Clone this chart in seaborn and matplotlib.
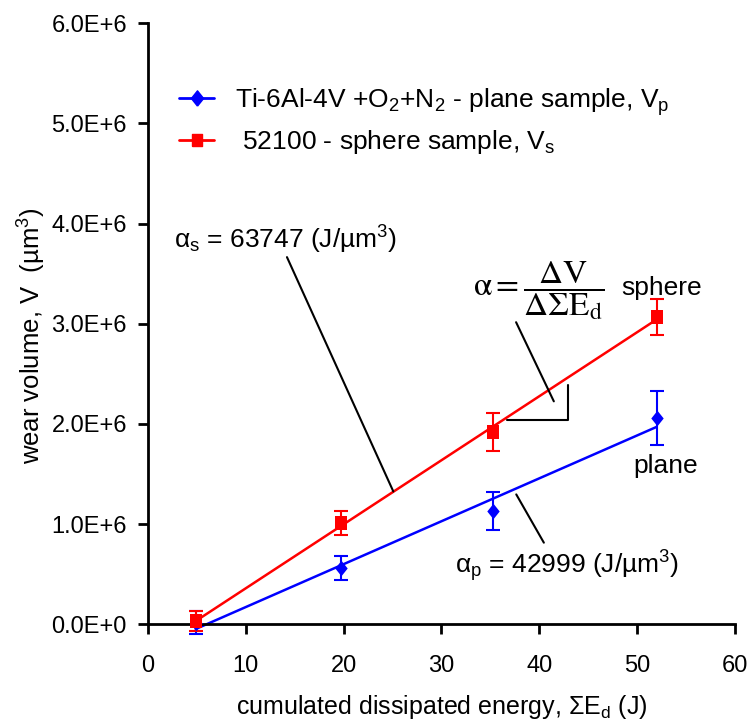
import numpy as np
import pandas as pd
import matplotlib
matplotlib.use('Agg')
import matplotlib.pyplot as plt
import seaborn as sns
from matplotlib.lines import Line2D
from matplotlib.ticker import FuncFormatter, MultipleLocator

# cumulated dissipated energy (J)
energy = [4.9, 19.7, 35.3, 52.0]

# wear volumes (um^3) and error bars
plane_vol = [0.015e6, 0.56e6, 1.13e6, 2.06e6]
plane_err = [0.115e6, 0.12e6, 0.19e6, 0.27e6]
sphere_vol = [0.03e6, 1.01e6, 1.92e6, 3.07e6]
sphere_err = [0.10e6, 0.12e6, 0.19e6, 0.18e6]

df = pd.DataFrame({'energy': energy, 'plane': plane_vol, 'sphere': sphere_vol})

sns.set_style('ticks')
plt.rcParams['font.family'] = ['Liberation Sans', 'DejaVu Sans']
plt.rcParams['mathtext.fontset'] = 'custom'
plt.rcParams['mathtext.rm'] = 'Liberation Sans'
plt.rcParams['mathtext.it'] = 'Liberation Sans'
plt.rcParams['mathtext.bf'] = 'Liberation Sans:bold'
for k in ['text.color', 'axes.labelcolor', 'xtick.color', 'ytick.color']:
    plt.rcParams[k] = 'black'

blue = '#0000ff'
red = '#ff0000'

fig, ax = plt.subplots(figsize=(7.54, 7.25), dpi=100)
fig.subplots_adjust(left=0.196, right=0.975, bottom=0.139, top=0.968)

# linear fits
sns.regplot(data=df, x='energy', y='plane', scatter=False, ci=None,
            color=blue, line_kws={'lw': 1.8}, ax=ax)
sns.regplot(data=df, x='energy', y='sphere', scatter=False, ci=None,
            color=red, line_kws={'lw': 1.8}, ax=ax)

rect = [(-0.42, -0.5), (0.42, -0.5), (0.42, 0.5), (-0.42, 0.5), (-0.42, -0.5)]
diam = [(0, -0.5), (0.4, 0), (0, 0.5), (-0.4, 0), (0, -0.5)]

ax.errorbar(df['energy'], df['plane'], yerr=plane_err, fmt='none', ecolor=blue,
            capsize=5, elinewidth=1.5, capthick=1.5, clip_on=False)
ax.errorbar(df['energy'], df['sphere'], yerr=sphere_err, fmt='none', ecolor=red,
            capsize=5, elinewidth=1.5, capthick=1.5, clip_on=False)
sns.scatterplot(data=df, x='energy', y='plane', marker=diam, s=125, color=blue,
                edgecolor=blue, linewidth=0, ax=ax, zorder=5, clip_on=False)
sns.scatterplot(data=df, x='energy', y='sphere', marker=rect, s=90, color=red,
                edgecolor=red, linewidth=0, ax=ax, zorder=5, clip_on=False)

for ln in ax.lines:
    ln.set_clip_on(False)

ax.set_xlim(0, 60)
ax.set_ylim(0, 6e6)
ax.xaxis.set_major_locator(MultipleLocator(10))
ax.yaxis.set_major_locator(MultipleLocator(1e6))


def sci(v, pos):
    if v == 0:
        return '0.0E+0'
    e = int(np.floor(np.log10(abs(v))))
    return f'{v / 10**e:.1f}E+{e}'


ax.yaxis.set_major_formatter(FuncFormatter(sci))
sns.despine(ax=ax)
for s in ['left', 'bottom']:
    ax.spines[s].set_linewidth(2)
    ax.spines[s].set_color('black')
ax.tick_params(direction='out', length=7, width=2, labelsize=17, colors='black')
ax.tick_params(axis='y', pad=8)
ax.tick_params(axis='x', pad=15)

ax.set_xlabel('cumulated dissipated energy, ΣE$_\\mathregular{d}$ (J)', fontsize=18, labelpad=12)
ax.set_ylabel('wear volume, V  (µm$^\\mathregular{3}$)', fontsize=18.5)
ax.yaxis.set_label_coords(-0.17, 0.48)

# legend
handles = [
    Line2D([], [], color=blue, marker=diam, ms=11, lw=2),
    Line2D([], [], color=red, marker=rect, ms=9, lw=2),
]
labels = ['Ti-6Al-4V +O$_\\mathregular{2}$+N$_\\mathregular{2}$ - plane sample, V$_\\mathregular{p}$',
          ' 52100 - sphere sample, V$_\\mathregular{s}$']
ax.legend(handles, labels, loc='upper left', bbox_to_anchor=(0.013, 0.935), frameon=False,
          fontsize=19, handlelength=1.33, handletextpad=0.78, labelspacing=0.4)

# annotations
ax.text(2.7, 3.84e6, 'α$_\\mathregular{s}$ = 63747 (J/µm$^\\mathregular{3}$)', fontsize=19,
        va='center', ha='left')
ax.annotate('', xy=(25.2, 1.30e6), xytext=(14.1, 3.69e6),
            arrowprops=dict(arrowstyle='-', lw=1.5, color='black'))

ax.text(31.4, 0.58e6, 'α$_\\mathregular{p}$ = 42999 (J/µm$^\\mathregular{3}$)', fontsize=19,
        va='center', ha='left')
ax.annotate('', xy=(37.5, 1.32e6), xytext=(40.6, 0.79e6),
            arrowprops=dict(arrowstyle='-', lw=1.5, color='black'))

ax.text(33.2, 3.33e6, r'$\mathrm{\alpha} = \dfrac{\Delta\mathrm{V}}{\Delta\Sigma\mathrm{E}_\mathrm{d}}$',
        fontsize=24, va='center', ha='left', math_fontfamily='stix')
ax.text(48.4, 3.29e6, 'sphere', fontsize=19, va='baseline', ha='left')
ax.text(49.6, 1.51e6, 'plane', fontsize=19, va='baseline', ha='left')

# slope triangle and pointer
ax.plot([36.7, 42.9, 42.9], [2.04e6, 2.04e6, 2.39e6], color='black', lw=1.5)
ax.annotate('', xy=(41.6, 2.20e6), xytext=(37.5, 3.04e6),
            arrowprops=dict(arrowstyle='-', lw=1.5, color='black'))

fig.savefig('out.png', dpi=100)
